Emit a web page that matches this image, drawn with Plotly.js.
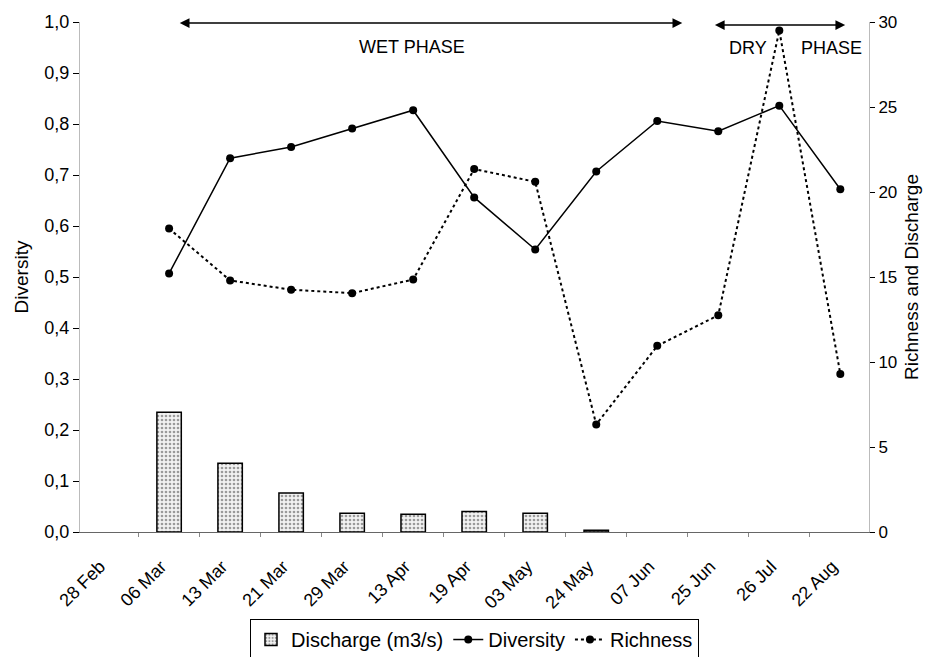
<!DOCTYPE html>
<html>
<head>
<meta charset="utf-8">
<script src="https://cdn.plot.ly/plotly-3.0.1.min.js"></script>
<style>html,body{margin:0;padding:0;background:#fff;}#chart{width:927px;height:657px;}</style>
</head>
<body>
<div id="chart"></div>
<script>
const categories = ['28 Feb','06 Mar','13 Mar','21 Mar','29 Mar','13 Apr','19 Apr','03 May','24 May','07 Jun','25 Jun','26 Jul','22 Aug'];
const discharge = [null, 7.05, 4.05, 2.3, 1.1, 1.05, 1.2, 1.1, 0.1, null, null, null, null];
const diversity = [null, 0.507, 0.733, 0.755, 0.791, 0.827, 0.656, 0.554, 0.707, 0.806, 0.786, 0.836, 0.672];
const richness  = [null, 17.85, 14.8, 14.25, 14.05, 14.85, 21.35, 20.6, 6.33, 10.95, 12.75, 29.5, 9.3];

const FONT = 'Liberation Sans, Arial, sans-serif';

const traces = [
  {
    type: 'bar', name: 'Discharge (m3/s)', x: categories, y: discharge, yaxis: 'y2',
    width: 0.4,
    marker: {color: '#eeeeee', line: {color: '#000', width: 1.5},
             pattern: {shape: '.', fgcolor: '#9a9a9a', bgcolor: '#f2f2f2', size: 4, solidity: 0.35}}
  },
  {
    type: 'scatter', mode: 'lines+markers', name: 'Diversity', x: categories, y: diversity,
    line: {color: '#000', width: 1.5}, marker: {color: '#000', size: 8}, cliponaxis: false
  },
  {
    type: 'scatter', mode: 'lines+markers', name: 'Richness', x: categories, y: richness, yaxis: 'y2',
    line: {color: '#000', width: 2, dash: 'dot'}, marker: {color: '#000', size: 8}, cliponaxis: false
  }
];

const layout = {
  width: 927, height: 657,
  margin: {l: 80, r: 58, t: 22, b: 125},
  paper_bgcolor: '#fff', plot_bgcolor: '#fff',
  separators: ', ',
  font: {family: FONT, color: '#000', size: 18},
  showlegend: true,
  legend: {orientation: 'h', xref: 'paper', x: 0.5, xanchor: 'center',
           yref: 'container', y: 0.0578, yanchor: 'top',
           bordercolor: '#000', borderwidth: 1, font: {size: 20, family: FONT}, traceorder: 'normal'},
  xaxis: {
    type: 'category', categoryorder: 'array', categoryarray: categories,
    range: [-0.46, 12.47], tickangle: -45, tickfont: {size: 18},
    ticklabelstandoff: 16, ticklabelshift: -8,
    showline: true, linecolor: '#666', linewidth: 1,
    ticks: 'outside', tickson: 'boundaries', ticklen: 4, tickcolor: '#888',
    showgrid: false, zeroline: false, fixedrange: true
  },
  yaxis: {
    range: [0, 1], dtick: 0.1, tickformat: '.1f', tickfont: {size: 18},
    ticks: 'outside', ticklen: 6, tickcolor: '#000',
    showline: true, linecolor: '#bbb', linewidth: 1,
    showgrid: false, zeroline: false,
    title: {text: 'Diversity', font: {size: 19}, standoff: 10}
  },
  yaxis2: {
    overlaying: 'y', side: 'right', range: [0, 30], dtick: 5, tickfont: {size: 17},
    ticks: 'outside', ticklen: 5, tickcolor: '#000',
    showline: true, linecolor: '#bbb', linewidth: 1,
    showgrid: false, zeroline: false,
    title: {text: 'Richness and Discharge', font: {size: 19}, standoff: 8}
  },
  annotations: [
    {xref: 'x', yref: 'y', axref: 'x', ayref: 'y', x: 9.41, y: 0.998, ax: 1.15, ay: 0.998,
     text: '', showarrow: true, arrowside: 'end+start', arrowhead: 2, arrowsize: 1.3, arrowwidth: 1.5, arrowcolor: '#000'},
    {xref: 'x', yref: 'y', axref: 'x', ayref: 'y', x: 12.08, y: 0.994, ax: 9.92, ay: 0.994,
     text: '', showarrow: true, arrowside: 'end+start', arrowhead: 2, arrowsize: 1.3, arrowwidth: 1.5, arrowcolor: '#000'},
    {xref: 'x', yref: 'y', x: 4.98, y: 0.951, text: 'WET PHASE', showarrow: false, font: {size: 18}},
    {xref: 'x', yref: 'y', x: 10.49, y: 0.949, text: 'DRY', showarrow: false, font: {size: 18}},
    {xref: 'x', yref: 'y', x: 11.85, y: 0.949, text: 'PHASE', showarrow: false, font: {size: 18}}
  ]
};

Plotly.newPlot('chart', traces, layout, {displayModeBar: false, staticPlot: true});
</script>
</body>
</html>
